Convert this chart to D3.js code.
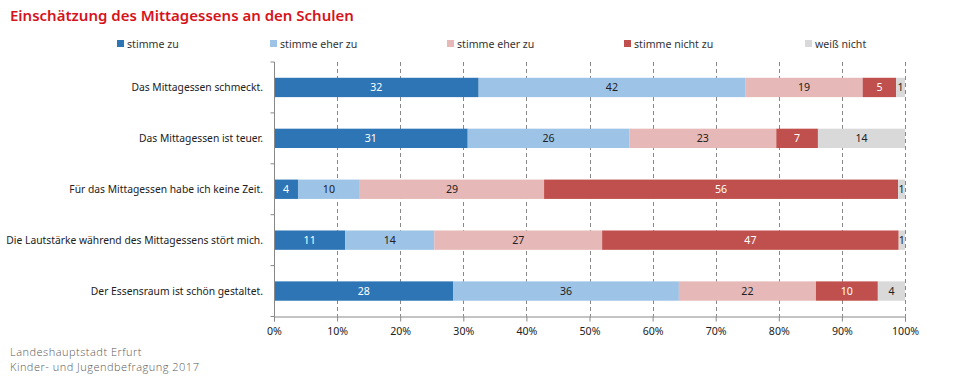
<!DOCTYPE html>
<html><head><meta charset="utf-8">
<script src="https://cdn.jsdelivr.net/npm/d3@7"></script>
<style>
body{margin:0;background:#fff;}
svg{display:block;font-family:"Noto Sans",sans-serif;}
</style></head><body>
<svg id="c" width="960" height="383"></svg>
<script>
const categories = [
  "Das Mittagessen schmeckt.",
  "Das Mittagessen ist teuer.",
  "Für das Mittagessen habe ich keine Zeit.",
  "Die Lautstärke während des Mittagessens stört mich.",
  "Der Essensraum ist schön gestaltet."
];
const seriesNames = ["stimme zu","stimme eher zu","stimme eher zu","stimme nicht zu","weiß nicht"];
const stimmeZu      = [32.4, 30.7,  3.8, 11.3, 28.4];
const stimmeEherZu  = [42.2, 25.6,  9.8, 14.1, 35.7];
const stimmeEherNicht=[18.6, 23.3, 29.2, 26.6, 21.7];
const stimmeNichtZu = [ 5.3,  6.6, 56.1, 47.0,  9.8];
const weissNicht    = [ 1.4, 13.8,  1.1,  1.0,  4.3];
const xTicks = [0,10,20,30,40,50,60,70,80,90,100];
const colors = ["#2E75B6","#9DC3E6","#E6B8B7","#C0504D","#D9D9D9"];
const labelColors = ["#fff","#222","#222","#fff","#222"];

(function(){
const FS = 10.6;
const series = [stimmeZu, stimmeEherZu, stimmeEherNicht, stimmeNichtZu, weissNicht];
const rows = categories.map((c,i)=>{
  const o={cat:c}; series.forEach((s,k)=>o["s"+k]=s[i]); return o;
});
const keys = series.map((s,k)=>"s"+k);
const stacked = d3.stack().keys(keys).offset(d3.stackOffsetExpand)(rows);

const svg = d3.select("#c");
const pL=274, pR=905, pT=62, pB=316.5;
const x = d3.scaleLinear().domain([0,1]).range([pL,pR]);
const y = d3.scaleBand().domain(categories).range([pT,pB]).paddingInner(0.62).paddingOuter(0.31);

// title
svg.append("text").attr("x",10).attr("y",21).attr("fill","#D6131B")
  .attr("font-family","'Noto Sans',sans-serif").attr("font-size",15).attr("font-weight",600)
  .text("Einschätzung des Mittagessens an den Schulen");

// legend
const legX = [117,270,447,624,805];
seriesNames.forEach((n,k)=>{
  const g=svg.append("g").attr("transform",`translate(${legX[k]},40)`);
  g.append("rect").attr("width",7).attr("height",7).attr("fill",colors[k]);
  g.append("text").attr("x",10).attr("y",7.5).attr("font-size",FS).attr("fill","#333").text(n);
});

// gridlines
svg.append("g").selectAll("line").data(xTicks.slice(1)).join("line")
  .attr("x1",d=>Math.round(x(d/100))+0.5).attr("x2",d=>Math.round(x(d/100))+0.5).attr("y1",pT).attr("y2",pB)
  .attr("stroke","#888").attr("stroke-dasharray","4,3").attr("stroke-width",1);

// bars
const g = svg.append("g");
stacked.forEach((layer,k)=>{
  g.append("g").selectAll("rect").data(layer).join("rect")
    .attr("x",d=>x(d[0])).attr("width",d=>x(d[1])-x(d[0]))
    .attr("y",d=>y(d.data.cat)).attr("height",y.bandwidth())
    .attr("fill",colors[k]);
  g.append("g").selectAll("text").data(layer).join("text")
    .attr("x",d=>(x(d[0])+x(d[1]))/2).attr("y",d=>y(d.data.cat)+y.bandwidth()/2+4)
    .attr("text-anchor","middle").attr("font-size",FS).attr("fill",labelColors[k])
    .text(d=>Math.round(d.data["s"+k]));
});

// y axis
const ya = svg.append("g").attr("transform",`translate(${pL+0.5},0)`);
ya.append("line").attr("y1",pT).attr("y2",pB).attr("stroke","#888");
const yTickPos = d3.range(categories.length+1).map(i=>pT + i*(pB-pT)/categories.length);
ya.selectAll("line.t").data(yTickPos).join("line").attr("class","t")
  .attr("x1",-4).attr("x2",0).attr("y1",d=>d).attr("y2",d=>d).attr("stroke","#888");
svg.append("g").selectAll("text").data(categories).join("text")
  .attr("x",263).attr("y",c=>y(c)+y.bandwidth()/2+4).attr("text-anchor","end")
  .attr("font-size",10.3).attr("fill","#222").text(c=>c);

// x axis
const xa = svg.append("g").attr("transform",`translate(0,${pB})`)
  .call(d3.axisBottom(x).tickValues(xTicks.map(t=>t/100)).tickFormat(d=>Math.round(d*100)+"%").tickSize(5));
xa.select(".domain").attr("stroke","#888");
xa.selectAll(".tick line").attr("stroke","#888");
xa.selectAll(".tick text").attr("font-size",FS).attr("fill","#222").attr("font-family","'Noto Sans',sans-serif").attr("dy","0.95em");

// footer
svg.append("text").attr("x",10).attr("y",356).attr("font-size",11).attr("fill","#595959")
  .attr("font-family","'Open Sans',sans-serif").attr("font-weight",300).attr("letter-spacing",0.5).text("Landeshauptstadt Erfurt");
svg.append("text").attr("x",10).attr("y",371).attr("font-size",11).attr("fill","#595959")
  .attr("font-family","'Open Sans',sans-serif").attr("font-weight",300).attr("letter-spacing",0.5).text("Kinder- und Jugendbefragung 2017");
})();
</script></body></html>
